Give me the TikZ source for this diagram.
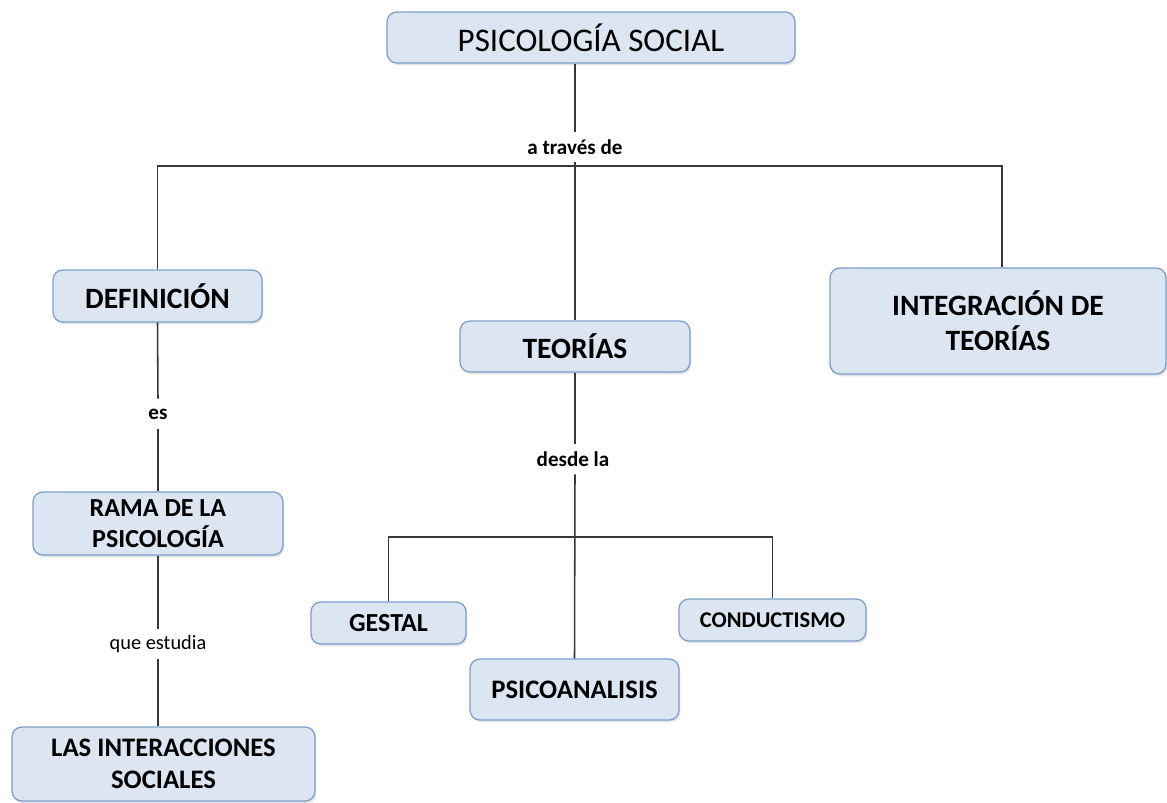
\documentclass[tikz,border=0pt]{standalone}
\usepackage{fontspec}
\setmainfont{Carlito}
\usetikzlibrary{calc,shadows}
\definecolor{boxfill}{RGB}{220,230,242}
\definecolor{boxline}{RGB}{124,158,204}
\definecolor{linkgray}{RGB}{55,55,55}
\tikzset{
  boxsize/.style 2 args={minimum width=#1*0.025cm, minimum height=#2*0.025cm},
  concept/.style={draw=boxline, line width=0.9pt, fill=boxfill, rounded corners=7pt,
    inner sep=0pt, align=center, font=\fontsize{18.5}{22.5}\selectfont\bfseries,
    drop shadow={opacity=0.22, shadow xshift=1pt, shadow yshift=-1.6pt}},
  bigconcept/.style={concept, font=\fontsize{21}{25}\selectfont\bfseries},
  linkword/.style={inner sep=0pt, minimum height=0.75cm, font=\fontsize{15}{17}\selectfont\bfseries},
  link/.style={draw=linkgray, line width=1.1pt}
}
\begin{document}
\begin{tikzpicture}[x=0.025cm, y=-0.025cm]
		\useasboundingbox (0,0) rectangle (1167,803);
		\coordinate (Bar)  at (575,166);% upper branching bar
		\coordinate (Bar2) at (575,537);% lower branching bar

		% concepts
		\node[concept, boxsize={408}{51}, font=\fontsize{23.5}{27}\selectfont] (Social) at (591,37.5) {PSICOLOGÍA SOCIAL};
		\node[bigconcept, boxsize={209}{52}] (Definicion) at (157.5,296) {DEFINICIÓN};
		\node[bigconcept, boxsize={230}{51}] (Teorias) at (575,346.5) {TEORÍAS};
		\node[bigconcept, boxsize={336}{106}] (Integracion) at (998,321) {INTEGRACIÓN DE\\TEORÍAS};
		\node[concept, boxsize={250}{63}] (Rama) at (158,523.5) {RAMA DE LA\\PSICOLOGÍA};
		\node[concept, boxsize={303}{74}, font=\fontsize{19}{22.5}\selectfont\bfseries] (Interacciones) at (163.5,764) {LAS INTERACCIONES\\SOCIALES};
		\node[concept, boxsize={155}{42}] (Gestal) at (388.5,623) {GESTAL};
		\node[concept, boxsize={187}{42}, font=\fontsize{16}{18}\selectfont\bfseries] (Conductismo) at (772.5,620) {CONDUCTISMO};
		\node[concept, boxsize={209}{61}, font=\fontsize{19}{22}\selectfont\bfseries] (Psicoanalisis) at (574.5,689.5) {PSICOANALISIS};

		% linking words
		\node[linkword] (Traves) at (575,147) {a través de};
		\node[linkword] (Es) at (158,414) {es};
		\node[linkword] (Desde) at (573,459) {desde la};
		\node[linkword, font=\fontsize{14.5}{17}\selectfont] (Estudia) at (158,644) {que estudia};

		% connectors
		\draw[link] (Traves.north |- Social.south) -- (Traves.north);
		\draw[link] (Traves.south) -- (Teorias.north);
		\draw[link] (Definicion.north) |- (Bar) -| ($(Integracion.north)+(4,0)$);
		\draw[link] (Definicion.south) -- (Es.north);
		\draw[link] (Es.south) -- (Rama.north);
		\draw[link] (Rama.south) -- (Estudia.north);
		\draw[link] (Estudia.south) -- (Estudia.south |- Interacciones.north);
		\draw[link] (Teorias.south) -- (Teorias.south |- Desde.north);
		\draw[link] (Teorias.south |- Desde.south) -- (Psicoanalisis.north);
		\draw[link] (Gestal.north) |- (Bar2) -| (Conductismo.north);
\end{tikzpicture}
\end{document}
